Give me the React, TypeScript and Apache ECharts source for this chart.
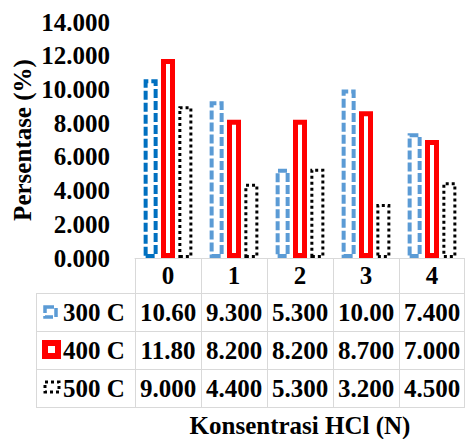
import React, { useEffect, useRef } from "react";
import * as echarts from "echarts";

const categories = ["0", "1", "2", "3", "4"];
const seriesNames = ["300 C", "400 C", "500 C"];
const values300 = [10.6, 9.3, 5.3, 10.0, 7.4];
const values400 = [11.8, 8.2, 8.2, 8.7, 7.0];
const values500 = [9.0, 4.4, 5.3, 3.2, 4.5];
const yAxisTitle = "Persentase (%)";
const xAxisTitle = "Konsentrasi HCl (N)";

const W = 465;
const H = 439;
const GRID_LEFT = 135;
const GRID_RIGHT = 0;
const GRID_TOP = 22;
const GRID_BOTTOM = 181;
const COL_W = (W - GRID_LEFT - GRID_RIGHT) / categories.length;
const TABLE_TOP = H - GRID_BOTTOM;
const HEADER_H = 35;
const ROW_H = 38;
const LABEL_LEFT = 36;
const FONT = "Liberation Serif";
const FS = 25;
const LINE_COLOR = "#D9D9D9";
const BAR_W = 14;
const BAR_GAP = "24%";

export default function App() {
  const ref = useRef<HTMLDivElement>(null);
  useEffect(() => {
    if (!ref.current) return;
    const chart = echarts.init(ref.current, undefined, { renderer: "svg" });
    const seriesValues = [values300, values400, values500];
    const graphics: any[] = [];
    const tableBottom = TABLE_TOP + HEADER_H + ROW_H * seriesNames.length;
    for (let r = 0; r <= seriesNames.length; r++) {
      const y = Math.round(TABLE_TOP + HEADER_H + r * ROW_H) + 0.5;
      graphics.push({
        type: "line",
        shape: { x1: LABEL_LEFT, y1: y, x2: W, y2: y },
        style: { stroke: LINE_COLOR, lineWidth: 1 },
      });
    }
    for (let c = 0; c <= categories.length; c++) {
      const x = Math.min(Math.round(GRID_LEFT + c * COL_W) + 0.5, W - 0.5);
      graphics.push({
        type: "line",
        shape: { x1: x, y1: TABLE_TOP, x2: x, y2: tableBottom },
        style: { stroke: LINE_COLOR, lineWidth: 1 },
      });
    }
    graphics.push({
      type: "line",
      shape: { x1: LABEL_LEFT + 0.5, y1: TABLE_TOP + HEADER_H, x2: LABEL_LEFT + 0.5, y2: tableBottom },
      style: { stroke: LINE_COLOR, lineWidth: 1 },
    });
    const textStyle = {
      fontFamily: FONT,
      fontSize: FS,
      fontWeight: "bold",
      fill: "#000",
      textVerticalAlign: "middle",
    };
    seriesValues.forEach((vals, r) => {
      const cy = TABLE_TOP + HEADER_H + r * ROW_H + ROW_H / 2;
      vals.forEach((v, c) => {
        graphics.push({
          type: "text",
          style: {
            ...textStyle,
            text: v.toPrecision(4),
            x: GRID_LEFT + c * COL_W + COL_W / 2,
            y: cy,
            textAlign: "center",
          },
        });
      });
      graphics.push({
        type: "text",
        style: { ...textStyle, text: seriesNames[r], x: 63, y: cy, textAlign: "left" },
      });
    });
    const r0 = TABLE_TOP + HEADER_H;
    graphics.push({
      type: "rect",
      shape: { x: 45, y: r0 + 14, width: 11, height: 10 },
      style: { fill: "#fff", stroke: "#5B9BD5", lineWidth: 3.5, lineDash: [9, 3] },
    });
    graphics.push({
      type: "rect",
      shape: { x: 45, y: r0 + ROW_H + 12, width: 13, height: 13 },
      style: { fill: "#fff", stroke: "#FF0000", lineWidth: 6 },
    });
    graphics.push({
      type: "rect",
      shape: { x: 45, y: r0 + ROW_H * 2 + 13, width: 14, height: 10 },
      style: { fill: "#fff", stroke: "#000", lineWidth: 3, lineDash: [3, 3] },
    });
    graphics.push({
      type: "text",
      x: 22,
      y: 140,
      rotation: Math.PI / 2,
      style: { ...textStyle, text: yAxisTitle, x: 0, y: 0, textAlign: "center" },
    });
    graphics.push({
      type: "text",
      style: { ...textStyle, text: xAxisTitle, x: 300, y: 425, textAlign: "center" },
    });

    const option: any = {
      animation: false,
      backgroundColor: "#fff",
      textStyle: { fontFamily: FONT },
      grid: { left: GRID_LEFT, right: GRID_RIGHT, top: GRID_TOP, bottom: GRID_BOTTOM },
      xAxis: {
        type: "category",
        data: categories,
        axisLine: { show: true, lineStyle: { color: LINE_COLOR, width: 1 } },
        axisTick: { show: false },
        axisLabel: {
          margin: HEADER_H / 2,
          verticalAlign: "middle",
          fontFamily: FONT,
          fontSize: FS,
          fontWeight: "bold",
          color: "#000",
        },
      },
      yAxis: {
        type: "value",
        min: 0,
        max: 14,
        interval: 2,
        splitLine: { show: false },
        axisLine: { show: false },
        axisTick: { show: false },
        axisLabel: {
          margin: 25,
          formatter: (v: number) => v.toFixed(3),
          fontFamily: FONT,
          fontSize: FS,
          fontWeight: "bold",
          color: "#000",
        },
      },
      series: [
        {
          name: seriesNames[0],
          type: "bar",
          barWidth: BAR_W,
          barGap: BAR_GAP,
          data: values300.map((v, i) =>
            i === 0 ? { value: v, itemStyle: { borderColor: "#0070C0" } } : v
          ),
          itemStyle: { color: "#fff", borderColor: "#5B9BD5", borderWidth: 4, borderType: [9, 3] },
        },
        {
          name: seriesNames[1],
          type: "bar",
          barWidth: BAR_W,
          barGap: BAR_GAP,
          data: values400,
          itemStyle: { color: "#fff", borderColor: "#FF0000", borderWidth: 5 },
        },
        {
          name: seriesNames[2],
          type: "bar",
          barWidth: BAR_W,
          barGap: BAR_GAP,
          data: values500,
          itemStyle: { color: "#fff", borderColor: "#000", borderWidth: 3, borderType: [3, 3] },
        },
      ],
      graphic: { elements: graphics },
    };
    chart.setOption(option);
    return () => chart.dispose();
  }, []);
  return (
    <div
      ref={ref}
      style={{ position: "fixed", left: 0, top: 0, width: W, height: H }}
    />
  );
}
